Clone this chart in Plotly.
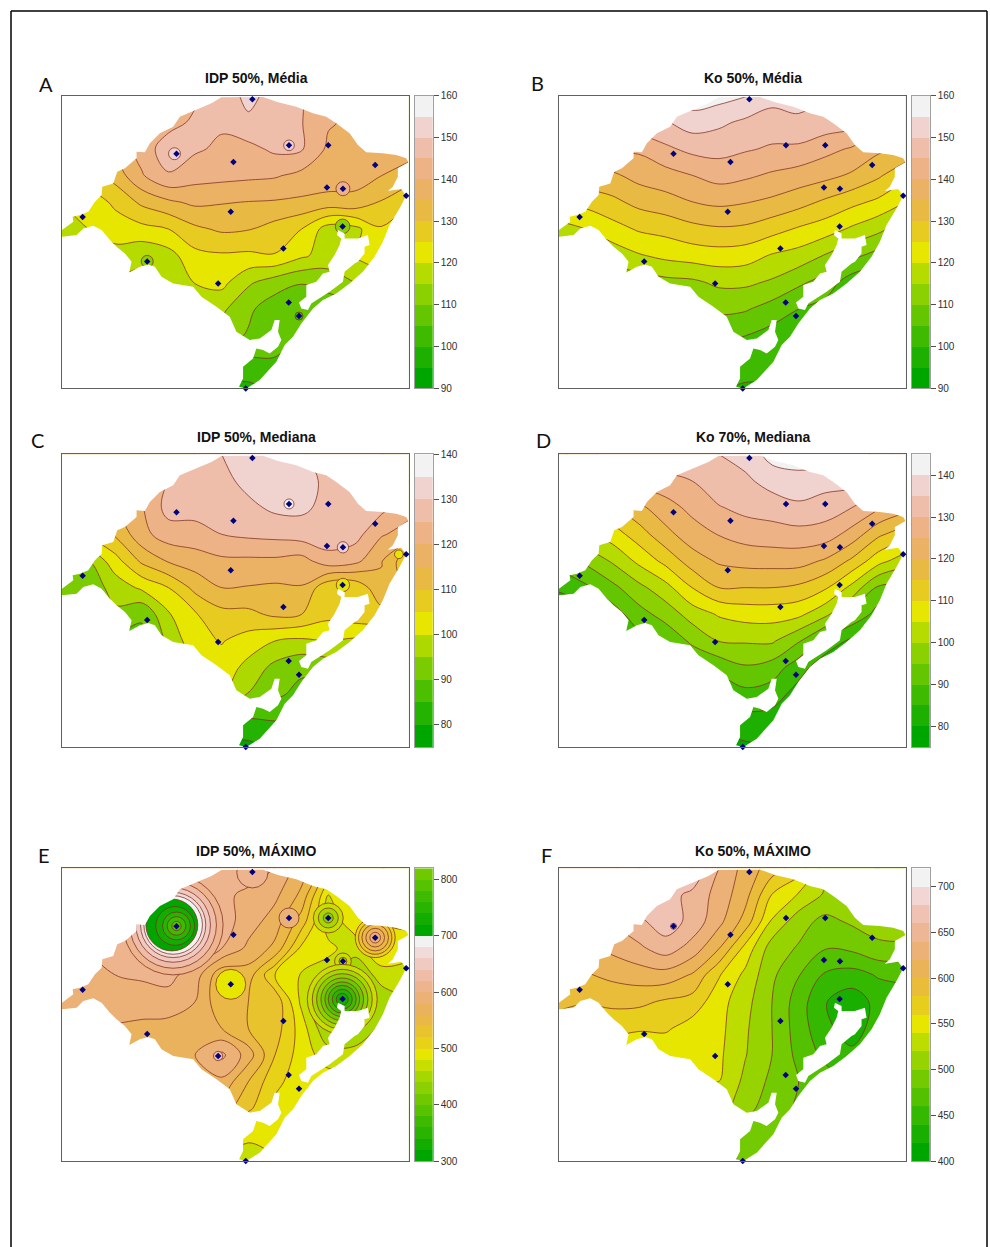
import colorsys
import plotly.graph_objects as go

# ---------- map units: frame is 104.1 wide, 87.8 high, y grows downward
FRAME_W, FRAME_H = 104.1, 87.8
GRID_X = [0, 8, 16, 24, 32, 40, 48, 56, 64, 72, 80, 88, 96, 104]
GRID_Y = [0, 8, 16, 24, 32, 40, 48, 56, 64, 72, 80, 88]

OUTLINE_X = [0, 0, 3.4, 3.2, 5.4, 7.9, 9.9, 11.9, 12.1, 15.4, 16.6, 18.9, 22.4, 22.4, 24.9, 26.4, 29.4, 33.4, 35.4, 40.4, 44.9, 47.9,
             60.4, 64.9, 70.4, 75.4, 79.4, 82.4, 86.4, 88.9, 91.4, 96.4, 100.4, 103.4, 104.1, 100.9, 100.9, 99.4, 97.9, 101.9, 103.4,
             101.4, 98.4, 96.4, 93.9, 90.4, 86.4, 82.4, 78.4, 75.4, 71.9, 69.4, 66.9, 64.4, 59.4, 55.4, 53.2, 54.4, 54.4, 57.4, 58.4,
             60.4, 62.4, 64.9, 65.9, 64.9, 65.4, 63.9, 62.9, 59.4, 56.4, 52.4, 50.9, 50.4, 46.4, 41.9, 39.4, 33.4, 29.9, 27.9, 25.9,
             23.4, 20.2, 20.9, 18.9, 16.4, 14.4, 11.9, 9.4, 6.4, 4.4, 0]
OUTLINE_Y = [42.3, 40.3, 37.8, 36.3, 35.8, 34.8, 31.8, 29.8, 27.3, 26.3, 22.8, 21.8, 18.8, 16.8, 17, 14.3, 11.3, 9.3, 6.3, 4.3, 2.3, 0.5,
             0.4, 2, 3.3, 5.3, 6.3, 8.3, 11.3, 14.8, 17, 17.3, 17.8, 18.8, 20, 21.8, 24.3, 27.3, 28.6, 28, 30,
             33.8, 38.8, 43.8, 48.3, 52.8, 56.3, 59.3, 61.3, 63.8, 68.3, 72.3, 74.8, 79.8, 85.3, 87.8, 87.3, 84.8, 81.3, 78.8, 75.8,
             76.3, 77.3, 75.3, 73.3, 70.8, 67.3, 67.3, 70.3, 72.8, 73.3, 70.8, 67.8, 66.3, 63.3, 60.3, 57.3, 56.3, 54.3, 51.3, 50.6,
             51.3, 53, 49.8, 47.3, 45.3, 43.3, 40.3, 39, 39.8, 41.8, 42.3]
LAGOON_X = [82.9, 84.9, 84.9, 88.9, 91.9, 92.4, 90.9, 90.9, 88.9, 87.9, 84.9, 84.4, 80.4, 77.4, 74.9, 73.9, 71.9, 71.2, 73.4, 73.4,
            76.4, 78.4, 80.4, 79.9, 81.9, 83.4, 83.9, 82.6]
LAGOON_Y = [40.3, 41.3, 42.8, 42.8, 41.8, 44.8, 45.3, 47.3, 49.8, 50.3, 52.8, 55.8, 58.8, 60.8, 62.3, 64.3, 63.8, 62, 60.3, 56.8,
            55.8, 53.3, 52.8, 50.8, 47.8, 44.8, 42.8, 41.8]
STATION_X = [57.2, 68.2, 80, 34.4, 51.5, 94.1, 79.6, 84.4, 103.4, 50.7, 6.2, 84.3, 66.5, 25.6, 46.9, 68.1, 71.2, 55.2]
STATION_Y = [1.1, 14.9, 14.9, 17.4, 19.9, 20.8, 27.5, 27.9, 30, 34.8, 36.4, 39.2, 45.8, 49.7, 56.3, 62, 66.1, 87.8]

# ---------- fields
Z_A = [
 [135,136,138,140,142,144,147,151.5,148,145.5,141,139,137,136],
 [134,135,137,140,143,146,145.8,149,147,145.2,140.5,139,137,136],
 [133,134,136,142,148,145.7,144,143.5,146,145.5,139,138,137,137],
 [126,128,132,139.5,144.5,142,141.5,141,140.5,138.5,138,137,135,133],
 [120,122,126,131,134,136,135.3,134.8,134.5,134,133,133.5,129.5,125],
 [118,120,122.5,123.5,125,129,130.8,130.3,128,125,117.5,118.5,124.5,125],
 [115,116,118,116,118,123.5,124.3,124,124.7,120.8,118,120.5,122,122],
 [112,113,114,114,116,120.2,121.5,115.8,112.5,110.3,112,115,118,118],
 [110,110,110,110,112,117,116,111,107,106,107,108,110,112],
 [108,108,108,108,110,112,112,109.5,107,104.5,105,106,107,108],
 [106,106,106,106,106,106,106,104,104.5,104,104,104,105,106],
 [98,98,98,98,98,98,98,98.5,101,102,102,102,102,102],
]
Z_B = [
 [145,150,152,153,155,158,157,155.5,152,152,150,150,146,144],
 [140,146,147,148.5,149.5,152.5,151,149,147.6,149,148,147,142,140],
 [135,140,141,140.8,144,146.3,146.8,145.5,144.4,144,141.5,139.4,136,134],
 [130,133,134,136.7,138,139.9,141.8,140.8,139.2,137.8,136.4,134.2,130.7,126],
 [125,126.5,128.7,131.4,133,134.9,136,135.2,133.9,131.8,129,126.3,123.8,120],
 [118,120,123,125.6,126.6,128.5,129.4,129,126.9,124.4,122.4,119.2,116.3,112],
 [112,115,117,119.5,121.2,122.2,122.8,122.2,119.5,118,114.6,111.3,108,105],
 [108,110,112,112,113.5,114,116,116,114.3,111,108,102,100,100],
 [104,105,107,107,108,108,111,110.5,107.9,105,103,99,98,98],
 [102,102,103,103,104,104,106,105,103,101,100,98,98,98],
 [100,100,100,100,101,101,102,101.5,101,100,99,98,98,98],
 [98,98,98,98,99,99,100,99.5,99.5,99,98,98,98,98],
]
Z_C = [
 [118,118,119,120,122,125,130,134,134,130.5,127,126,125,124],
 [116,116,118,120,125,127,128.5,131.5,134,132.5,128.5,127,126,125],
 [111,112,115,119.5,127,127,128,128.8,131,131,128.5,128,126.5,122],
 [106,107,110.5,118.5,122.5,123,125,126,126.5,127.5,128,127,120.5,118],
 [96,95,103,111,115.5,117.5,119,119,119,118,123,121.5,115.3,106],
 [92,92,97,101,105,111.5,115,114.7,114.2,114.7,106,106,114,108],
 [90,90,94,90.5,99.5,104.5,108.4,108.7,111,110,106.5,108,108,106],
 [88,88,88,89,96,103.5,105.3,102.8,100,99,100,99,100,100],
 [88,88,88,88,92,100,103,98.3,93.5,91,92,94,96,98],
 [88,88,88,88,90,96,100,94.7,91,88.5,88,90,92,94],
 [86,86,86,86,86,86,86,84,85,85,85,86,88,90],
 [78,78,78,78,78,78,78,78.5,81,82,82,82,84,86],
]
Z_D = [
 [124,128,133,135,135,134,135,137,142,143,143,144,138,132],
 [116,120,125,127,128,130,133.5,134,137,138,137,137,133,128],
 [108,112,114.5,118.8,123,126.3,129.6,131.5,132.3,134,132.5,130,125.5,122],
 [100,104,107.5,112.6,118.4,122.8,125.2,127,127.8,128.2,127.7,123,116,112],
 [92,96,100.6,106.2,111.5,117.5,120.7,121.8,122,122,119.3,114,106.8,102],
 [86,89,93.6,98.6,103.2,110,115,115,115,114,110.7,103.5,94,94],
 [80,82,87.5,93,97,102.2,105.5,107,107.1,106.2,101.2,94,88,88],
 [76,78,82,88,91,96,100.1,100.5,100.7,95.5,88,84,84,84],
 [76,76,78,82,86,90,91.5,94.4,92.7,87,82,82,82,82],
 [76,76,76,78,80,84,86,88.5,87.3,83,81,81,81,81],
 [76,76,76,76,76,80,82,83,82.8,82,81,81,81,81],
 [76,76,76,76,76,78,78,79,80,81,81,81,81,81],
]
Z_E = [
 [590,590,590,590,600,610,605,612,600,570,530,530,540,550],
 [595,595,600,605,610,610,605,595,585,555,480,485,495,510],
 [600,600,605,610,610,610,610,590,570,530,470,490,500,505],
 [600,600,605,610,610,612,600,575,555,495,485,470,500,490],
 [595,595,600,603,606,590,545,550,500,478,470,440,470,470],
 [585,590,590,590,592,580,545,540,535,475,430,430,445,460],
 [580,580,578,575,572,575,560,540,530,490,440,440,465,470],
 [575,575,575,575,575,580,605,570,520,490,470,470,475,480],
 [575,575,575,575,575,570,575,540,505,490,490,490,490,490],
 [560,560,560,560,560,560,550,525,495,490,490,490,490,490],
 [540,540,540,540,540,530,520,485,488,490,490,490,490,490],
 [500,500,500,500,500,490,480,468,478,490,490,490,490,490],
]
Z_F = [
 [660,650,655,680,690,680,640,612,590,570,530,530,520,530],
 [650,645,650,675,668,655,632,607,559,538,517,515,515,525],
 [640,630,642,655,672,653,626,592,537,508,494,503,510,515],
 [625,615,625,636,650,632,601,553,510,498,481,484,495,495],
 [600,598,605,610,612,598,562,535,504,481,457,452,462,465],
 [585,581,585,585,577,572,548,527,500,470,441,428,447,450],
 [570,570,566,562,563,551,546,523,500,470,445,430,450,450],
 [560,560,550,545,545,545,544,521,500,474,455,445,460,455],
 [550,550,545,530,535,535,540,515,495,480,470,460,465,460],
 [550,550,545,530,530,530,530,508,487,478,470,465,465,465],
 [550,550,545,530,530,530,530,490,485,478,470,465,465,465],
 [550,550,545,530,530,530,530,485,485,478,470,465,465,465],
]
# local closed contours around stations: (x, y, radius, value)
RINGS_A = [(33.8,17.4,1.8,152),(68.2,14.9,1.6,152),(84.4,27.9,2.1,142),(84.3,39.2,2.2,112),(25.6,49.7,1.8,112),(71.2,66.1,1.2,102)]
RINGS_B = []
RINGS_C = [(68.2,14.9,1.5,137),(84.4,27.9,1.7,132),(84.4,39.2,2.0,102),(101.2,30.0,1.3,103)]
RINGS_D = []
RINGS_E = [(33.4,17,15,610),(33.4,17,13,630),(33.4,17,11.2,650),(33.4,17,9.8,670),(33.4,17,8.8,690),(33.0,17,7.8,710),
           (34,17.3,5.8,730),(34.4,17.3,4.2,750),(34.4,17.3,2.8,770),(34.4,17.3,1.4,790),
           (57.2,1.2,4.7,610),(68.2,14.9,3.0,590),
           (80,14.9,4.5,470),(80,14.9,3.0,450),(80,14.9,1.5,430),
           (94.1,20.8,6.0,510),(94.1,20.8,5.0,530),(94.1,20.8,4.0,550),(94.1,20.8,2.8,570),(94.1,20.8,1.6,590),(94.1,20.8,0.6,610),
           (84.4,27.9,2.5,470),(84.4,27.9,1.2,450),
           (50.7,34.8,4.5,490),
           (84.2,39.3,10.5,470),(84.2,39.3,9,450),(84.2,39.3,7.7,430),(84.2,39.3,6.4,410),(84.2,39.3,5.2,390),(84.2,39.3,4.2,370),(84.2,39.3,3,350),(84.2,39.3,1.8,330),
           (46.9,56.3,1.4,625)]
RINGS_F = [(34.4,17.4,0.9,690)]

TICKS_AB = [90, 100, 110, 120, 130, 140, 150, 160]
TICKS_CD = [80, 90, 100, 110, 120, 130, 140]
TICKS_E = [300, 400, 500, 600, 700, 800]
TICKS_F = [400, 450, 500, 550, 600, 650, 700]

PANELS = [
 dict(letter="A", title="IDP 50%, Média",    z=Z_A, rings=RINGS_A, lo=90,  hi=160, step=5,  n=14, ticks=TICKS_AB, fx=62,  fy=95.7,  lx=415, tc=(256.5,78),  lc=(46,84)),
 dict(letter="B", title="Ko 50%, Média",     z=Z_B, rings=RINGS_B, lo=90,  hi=160, step=5,  n=14, ticks=TICKS_AB, fx=559, fy=95.7,  lx=912, tc=(753,78),    lc=(537,83)),
 dict(letter="C", title="IDP 50%, Mediana",  z=Z_C, rings=RINGS_C, lo=75,  hi=140, step=5,  n=13, ticks=TICKS_CD, fx=62,  fy=454.3, lx=415, tc=(256,437),   lc=(37,440)),
 dict(letter="D", title="Ko 70%, Mediana",   z=Z_D, rings=RINGS_D, lo=75,  hi=145, step=5,  n=14, ticks=TICKS_CD, fx=559, fy=454.3, lx=912, tc=(753,437),   lc=(543,440)),
 dict(letter="E", title="IDP 50%, MÁXIMO",   z=Z_E, rings=RINGS_E, lo=300, hi=820, step=20, n=20, ticks=TICKS_E,  fx=62,  fy=868.3, lx=415, tc=(256,851),   lc=(44,855)),
 dict(letter="F", title="Ko 50%, MÁXIMO",    z=Z_F, rings=RINGS_F, lo=400, hi=720, step=20, n=16, ticks=TICKS_F,  fx=559, fy=868.3, lx=912, tc=(753,851),   lc=(546,855)),
]

W, H = 990, 1247
PX = 346.5 / FRAME_W
LINE = "rgba(125,45,30,0.75)"


def terrain(n):
    """R's terrain.colors(n)."""
    k = n // 2
    def seq(a, b, m):
        return [a + (b - a) * i / (m - 1) if m > 1 else a for i in range(m)]
    hsv = list(zip(seq(4/12, 2/12, k), seq(1, 1, k), seq(.65, .9, k)))
    m = n - k + 1
    hsv += list(zip(seq(2/12, 0, m), seq(1, 0, m), seq(.9, .95, m)))[1:]
    out = []
    for h, s, v in hsv:
        r, g, b = colorsys.hsv_to_rgb(h, s, v)
        out.append(f"rgb({round(r*255)},{round(g*255)},{round(b*255)})")
    return out


fig = go.Figure()
layout = dict(width=W, height=H, margin=dict(l=0, r=0, t=0, b=0, autoexpand=False), paper_bgcolor="white", plot_bgcolor="white",
              showlegend=False, annotations=[], shapes=[])
PAD = 1.5

for i, p in enumerate(PANELS):
    a = 2 * i + 1
    b = 2 * i + 2
    pal = terrain(p["n"])
    bands = int(round((p["hi"] - p["lo"]) / p["step"]))
    cols = [pal[j % p["n"]] for j in range(bands)]
    scale = [[j / (bands - 1), cols[j]] for j in range(bands)]
    xa, ya = f"x{a}", f"y{a}"
    fig.add_trace(go.Contour(
        x=GRID_X, y=GRID_Y, z=p["z"], xaxis=xa, yaxis=ya, colorscale=scale, showscale=False, hoverinfo="skip",
        autocontour=False,
        contours=dict(start=p["lo"] + p["step"], end=p["hi"] - p["step"], size=p["step"], coloring="fill", showlines=True),
        line=dict(color=LINE, width=1, smoothing=1.0)))
    if p["rings"]:
        rx, ry, rr, rv = zip(*p["rings"])
        fig.add_trace(go.Scatter(
            x=rx, y=ry, xaxis=xa, yaxis=ya, mode="markers", hoverinfo="skip",
            marker=dict(symbol="circle", size=[2 * r * PX for r in rr], sizemode="diameter",
                        color=[cols[int((v - p["lo"]) // p["step"])] for v in rv],
                        line=dict(color=LINE, width=1), opacity=1)))
    # white mask outside the state outline (outer loop runs the opposite way round)
    mx = [-PAD, -PAD, FRAME_W + PAD, FRAME_W + PAD, -PAD, -PAD] + OUTLINE_X
    my = [OUTLINE_Y[0], FRAME_H + PAD, FRAME_H + PAD, -PAD, -PAD, OUTLINE_Y[0]] + OUTLINE_Y
    fig.add_trace(go.Scatter(x=mx, y=my, xaxis=xa, yaxis=ya, mode="lines", fill="toself", fillcolor="white",
                             line=dict(width=0, color="white"), hoverinfo="skip"))
    fig.add_trace(go.Scatter(x=LAGOON_X, y=LAGOON_Y, xaxis=xa, yaxis=ya, mode="lines", fill="toself", fillcolor="white",
                             line=dict(width=0, color="white"), hoverinfo="skip"))
    fig.add_trace(go.Scatter(x=STATION_X, y=STATION_Y, xaxis=xa, yaxis=ya, mode="markers", cliponaxis=False, hoverinfo="skip",
                             marker=dict(symbol="diamond", size=5, color="#000080")))
    # scale bar
    edges = [p["lo"] + j * p["step"] for j in range(bands + 1)]
    fig.add_trace(go.Heatmap(x=[0, 1], y=edges, z=[[j] for j in range(bands)], xaxis=f"x{b}", yaxis=f"y{b}",
                             colorscale=scale, zmin=0, zmax=bands - 1, showscale=False, hoverinfo="skip"))

    fy0 = p["fy"]
    fy1 = fy0 + 292.7
    common = dict(automargin=False, showgrid=False, zeroline=False, showline=True, mirror=True, linewidth=1)
    layout[f"xaxis{a}"] = dict(domain=[p["fx"] / W, (p["fx"] + 346.5) / W], range=[0, FRAME_W], anchor=f"y{a}",
                               showticklabels=False, ticks="", linecolor="#606060", **common)
    layout[f"yaxis{a}"] = dict(domain=[1 - fy1 / H, 1 - fy0 / H], range=[FRAME_H, 0], anchor=f"x{a}",
                               showticklabels=False, ticks="", linecolor="#606060", **common)
    layout[f"xaxis{b}"] = dict(domain=[p["lx"] / W, (p["lx"] + 17.7) / W], range=[0, 1], anchor=f"y{b}",
                               showticklabels=False, ticks="", linecolor="#a0a0a0", **common)
    layout[f"yaxis{b}"] = dict(domain=[1 - fy1 / H, 1 - fy0 / H], range=[p["lo"], p["hi"]], anchor=f"x{b}", side="right",
                               tickvals=p["ticks"], ticks="outside", ticklen=5, tickcolor="#505050", tickwidth=1,
                               tickfont=dict(family="Liberation Sans", size=10, color="#303030"),
                               linecolor="#a0a0a0", **common)
    layout["annotations"].append(dict(xref="paper", yref="paper", x=p["tc"][0] / W, y=1 - p["tc"][1] / H, text=f"<b>{p['title']}</b>",
                                      showarrow=False, xanchor="center", yanchor="middle",
                                      font=dict(family="Liberation Sans", size=14, color="#111111")))
    layout["annotations"].append(dict(xref="paper", yref="paper", x=p["lc"][0] / W, y=1 - p["lc"][1] / H, text=p["letter"],
                                      showarrow=False, xanchor="center", yanchor="middle",
                                      font=dict(family="Lato", size=20, color="#111111")))

# outer border of the figure
for x0, y0, x1, y1 in [(11, 11, 987, 11), (11, 11, 11, 1247), (987, 11, 987, 1247)]:
    layout["shapes"].append(dict(type="line", xref="paper", yref="paper", x0=x0 / W, x1=x1 / W, y0=1 - y0 / H, y1=1 - y1 / H,
                                 line=dict(color="black", width=1.5)))

fig.update_layout(**layout)
fig.write_html("out.html", config=dict(displayModeBar=False), post_script="document.body.style.margin='0';")
